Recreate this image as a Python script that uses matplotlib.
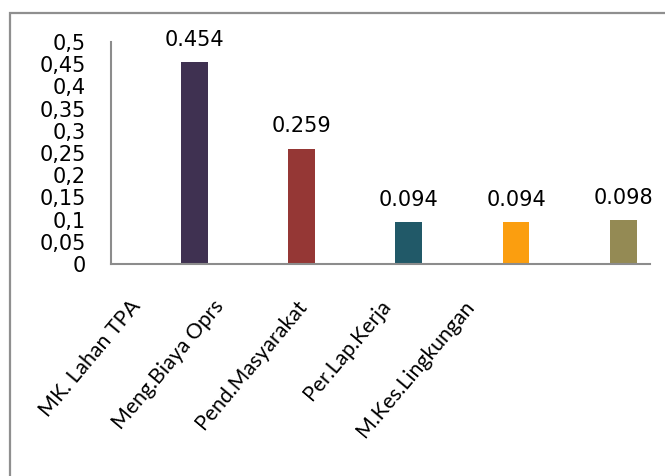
import matplotlib
matplotlib.use("Agg")
import matplotlib.pyplot as plt
from matplotlib.patches import Rectangle
from matplotlib.ticker import MultipleLocator, FuncFormatter
import numpy as np

# data
categories = ["MK. Lahan TPA", "Meng.Biaya Oprs", "Pend.Masyarakat",
              "Per.Lap.Kerja", "M.Kes.Lingkungan"]
values = [0.454, 0.259, 0.094, 0.094, 0.098]
bar_colors = ["#3f3151", "#953735", "#215968", "#fb9e0f", "#948a54"]
value_labels = ["0.454", "0.259", "0.094", "0.094", "0.098"]

fig = plt.figure(figsize=(6.65, 4.76), dpi=100)

# outer chart border (only top and left edges visible in the crop)
fig.patches.append(Rectangle((0.015, -0.2), 1.2, 1.1727, transform=fig.transFigure,
                             fill=False, edgecolor="#8f8f8f", linewidth=1.6))

ax = fig.add_axes([0.1669, 0.4454, 0.8105, 0.4664])
x = np.arange(len(categories))
ax.bar(x, values, width=0.25, color=bar_colors)

for xi, v, lab in zip(x, values, value_labels):
    ax.annotate(lab, (xi, v), xytext=(0, 9), textcoords="offset points",
                ha="center", va="bottom", fontsize=15, family="DejaVu Sans")

ax.set_xlim(-0.78, 4.25)
ax.set_ylim(0, 0.5)
ax.yaxis.set_major_locator(MultipleLocator(0.05))
ax.yaxis.set_major_formatter(FuncFormatter(lambda v, p: f"{round(v, 2):g}".replace(".", ",")))
ax.tick_params(axis="y", length=0, pad=18, labelsize=15)
ax.set_xticks([])

for s in ["top", "right"]:
    ax.spines[s].set_visible(False)
for s in ["left", "bottom"]:
    ax.spines[s].set_color("#8c8c8c")
    ax.spines[s].set_linewidth(1.5)

# category labels sit on their own spacing in the reference
lab_ax = fig.add_axes([0.1669, 0.4454, 0.8105, 0.4664], frameon=False)
lab_ax.set_xlim(-0.312, 6.158)
lab_ax.set_ylim(0, 1)
lab_ax.set_yticks([])
lab_ax.set_xticks(x)
lab_ax.set_xticklabels(categories, rotation=50, ha="right", va="center",
                       rotation_mode="anchor", fontsize=15.3, family="Lato")
lab_ax.tick_params(axis="x", length=0, pad=28)
lab_ax.patch.set_visible(False)

fig.savefig("out.png", dpi=100)
